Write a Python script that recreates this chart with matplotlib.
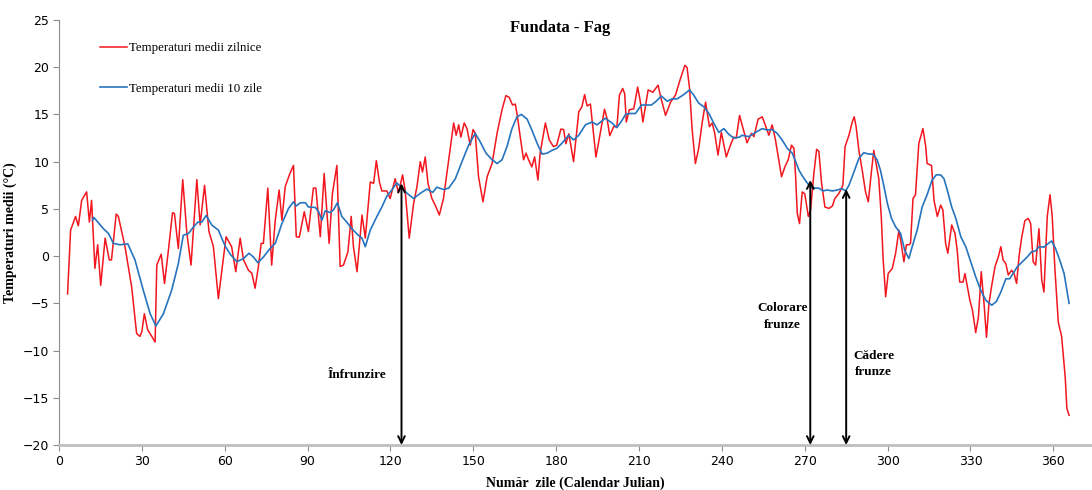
import matplotlib
matplotlib.use("Agg")
import matplotlib.pyplot as plt

# ---- data ----
red_days = [3.1, 4.2, 6.0, 7.0, 8.2, 10.0, 11.0, 11.8, 13.0, 14.0, 15.1, 16.7, 18.2, 19.0, 20.7, 21.5, 23.9, 26.3,
            28.1, 29.3, 30.0, 30.9, 32.1, 33.6, 34.8, 35.4, 37.0, 38.2, 39.6, 41.1, 41.8, 43.2, 44.8, 46.3, 47.8,
            49.9, 51.1, 52.7, 54.3, 55.9, 57.7, 58.9, 60.5, 62.5, 64.0, 65.6, 66.8, 68.6, 69.8, 71.0, 72.2, 73.2,
            74.0, 75.6, 77.0, 78.3, 79.7, 80.7, 81.9, 83.4, 84.9, 85.9, 87.0, 88.8, 90.3, 92.1, 93.0, 94.6, 96.0,
            97.8, 99.0, 100.6, 101.8, 103.0, 104.6, 105.8, 106.6, 107.9, 109.7, 110.9, 112.7, 113.9, 114.9, 116.0,
            116.9, 118.7, 119.9, 121.7, 122.9, 124.4, 125.3, 126.8, 128.4, 129.6, 130.8, 131.6, 132.6, 133.6, 135.0,
            136.2, 137.7, 139.2, 141.1, 142.9, 143.8, 144.7, 145.5, 146.7, 147.7, 148.9, 149.9, 150.7, 151.9, 153.5,
            155.0, 156.8, 158.6, 160.4, 161.8, 163.0, 164.2, 165.2, 166.0, 167.0, 168.2, 169.1, 170.0, 171.2, 172.2,
            173.4, 174.2, 176.1, 177.5, 179.0, 180.2, 181.7, 182.7, 183.5, 184.6, 186.3, 188.2, 189.3, 190.3, 191.2,
            192.4, 194.4, 195.4, 197.5, 198.4, 199.4, 200.8, 202.0, 202.9, 204.1, 204.8, 205.4, 206.5, 208.1, 209.5,
            210.5, 211.4, 213.3, 215.0, 216.0, 216.9, 217.8, 219.6, 221.4, 223.2, 225.0, 226.6, 227.4, 228.3, 229.2,
            230.4, 231.6, 232.9, 234.1, 235.5, 236.5, 237.4, 238.6, 239.8, 241.6, 243.1, 244.3, 245.2, 246.4, 247.3,
            249.1, 250.7, 251.6, 253.1, 254.6, 255.5, 257.0, 258.2, 259.4, 260.6, 261.6, 262.8, 264.0, 265.2, 266.1,
            266.7, 267.3, 268.1, 269.1, 270.0, 271.3, 272.1, 273.3, 274.3, 275.1, 276.1, 277.3, 278.8, 280.0, 280.9,
            282.4, 283.8, 284.6, 286.0, 287.2, 287.9, 288.6, 289.6, 290.8, 292.0, 293.0, 294.2, 295.0, 295.6, 296.8,
            297.7, 298.4, 299.3, 300.2, 301.7, 302.9, 304.1, 304.9, 305.9, 306.8, 307.7, 308.3, 309.2, 310.1, 311.3,
            312.8, 313.8, 314.3, 315.9, 316.8, 318.0, 319.2, 320.0, 321.0, 321.8, 323.2, 324.4, 325.2, 326.1, 327.3,
            328.0, 328.9, 329.8, 330.7, 331.9, 332.9, 333.9, 334.9, 335.8, 336.7, 337.7, 338.9, 340.1, 341.0, 341.8,
            342.8, 343.7, 344.9, 345.8, 346.7, 347.6, 348.5, 349.7, 350.9, 351.8, 352.7, 353.6, 354.8, 355.8, 356.6,
            357.8, 358.8, 359.6, 360.6, 361.8, 363.0, 364.3, 364.9, 365.7]
red_temps = [-4.0, 2.75, 4.2, 3.2, 5.9, 6.8, 3.6, 5.9, -1.3, 1.2, -3.1, 1.9, -0.4, -0.4, 4.45, 4.2, 1.0, -3.25,
             -8.2, -8.5, -8.0, -6.1, -7.8, -8.5, -9.1, -0.95, 0.2, -2.9, 0.6, 4.6, 4.5, 0.8, 8.1, 2.4, -0.95,
             8.1, 3.3, 7.5, 2.6, 1.0, -4.5, -1.65, 2.05, 1.0, -1.65, 1.9, -0.4, -1.5, -1.8, -3.4, -1.1, 1.35,
             1.35, 7.2, -0.95, 3.8, 7.0, 3.8, 7.35, 8.6, 9.6, 2.05, 2.0, 4.7, 2.6, 7.2, 7.2, 2.05, 8.75,
             1.35, 6.65, 9.6, -1.1, -0.95, 0.45, 4.2, 1.0, -1.65, 4.35, 1.9, 7.85, 7.7, 10.1, 7.85,
             6.9, 6.9, 6.1, 8.2, 6.7, 8.6, 7.0, 1.9, 5.6, 7.35, 10.0, 8.9, 10.5, 7.7, 6.1,
             5.4, 4.35, 6.1, 10.2, 14.1, 12.8, 13.9, 12.6, 14.1, 13.5, 11.75, 13.4, 13.0, 8.4, 5.75,
             8.4, 9.8, 13.0, 15.5, 17.0, 16.8, 16.0, 16.1, 14.75, 12.6, 10.2, 10.9, 10.2, 9.45, 10.5,
             8.05, 10.9, 14.1, 12.3, 11.6, 11.75, 13.45, 13.4, 11.9, 12.95, 10.0, 15.3, 15.8, 17.1, 15.9,
             16.1, 10.5, 12.1, 15.55, 14.6, 12.75, 13.7, 13.7, 17.05, 17.75, 17.2, 14.2, 15.5, 15.6, 17.9,
             16.3, 14.2, 17.6, 17.35, 17.75, 18.1, 16.9, 14.9, 16.3, 17.05, 18.8, 20.2, 19.95, 17.75, 13.5,
             9.8, 11.4, 14.2, 16.3, 13.7, 14.1, 13.0, 10.7, 13.1, 10.5, 11.75, 12.6, 12.5, 14.9, 13.9,
             12.0, 13.0, 12.65, 14.5, 14.75, 14.05, 12.8, 13.9, 12.3, 10.2, 8.4, 9.45, 10.2, 11.75, 11.4,
             8.4, 4.5, 3.45, 6.8, 6.6, 4.2, 4.9, 8.75, 11.3, 11.1, 7.7, 5.2, 5.05, 5.3, 6.1,
             6.65, 7.5, 11.6, 12.8, 14.2, 14.75, 13.7, 11.2, 9.1, 6.8, 5.75, 9.1, 11.2, 10.2, 8.2,
             4.2, -0.4, -4.3, -1.85, -1.3, 0.3, 2.75, 1.35, -0.6, 1.2, 1.2, 1.35, 6.1, 6.5, 11.95,
             13.5, 11.6, 9.8, 9.6, 5.9, 4.2, 5.4, 4.9, 1.35, 0.3, 3.3, 2.4, 0.6, -2.75, -2.75,
             -1.85, -3.25, -4.7, -5.7, -8.1, -6.4, -1.65, -5.0, -8.6, -5.0, -3.1, -1.1, -0.07, 1.0, -0.4,
             -0.8, -2.0, -1.5, -1.85, -2.9, 0.0, 1.9, 3.75, 4.0, 3.45, -0.6, -0.95, 2.9, -2.5, -3.8,
             4.2, 6.5, 4.2, -1.5, -7.0, -8.5, -12.8, -16.1, -16.85]

blue_days = [12.1, 12.6, 16.1, 17.9, 19.7, 22.1, 24.9, 27.5, 30.5, 33.0, 35.1, 37.8, 40.8, 43.2, 45.0, 46.9, 48.7,
             50.3, 51.7, 53.3, 55.3, 57.7, 60.1, 62.0, 64.4, 66.8, 68.8, 70.4, 72.0, 74.0, 76.4, 78.3, 80.7, 83.1,
             84.9, 85.8, 87.4, 89.2, 90.3, 92.8, 94.0, 95.2, 96.4, 98.2, 99.4, 100.8, 102.4, 104.2, 106.0, 108.4,
             109.7, 110.9, 112.7, 115.1, 116.9, 118.7, 120.5, 122.3, 123.5, 126.0, 128.4, 130.8, 133.2, 135.3,
             136.8, 139.2, 141.1, 143.5, 145.9, 148.3, 150.7, 152.5, 154.6, 156.8, 158.6, 160.4, 162.2, 164.0,
             165.8, 167.4, 169.5, 171.2, 173.1, 174.9, 176.7, 178.5, 180.2, 182.1, 184.5, 186.3, 188.2, 190.6,
             193.0, 194.8, 197.8, 200.2, 202.0, 203.9, 205.1, 206.9, 208.7, 210.9, 212.3, 214.5, 216.2, 218.1,
             220.2, 222.0, 223.8, 226.2, 228.3, 229.8, 231.6, 233.5, 235.3, 237.1, 238.9, 240.7, 242.5, 244.3,
             246.4, 247.3, 249.7, 252.2, 254.6, 256.4, 258.2, 260.0, 261.8, 263.7, 265.5, 266.7, 267.9, 269.1,
             270.5, 272.1, 273.9, 275.1, 276.6, 278.1, 280.0, 281.8, 283.4, 284.8, 286.0, 287.8, 289.6, 291.4,
             293.2, 294.7, 296.2, 297.4, 298.7, 299.9, 301.4, 302.9, 304.7, 306.2, 307.7, 308.9, 310.7, 312.5,
             314.3, 316.1, 317.6, 319.2, 320.4, 321.6, 323.2, 324.7, 326.5, 328.3, 330.1, 331.9, 333.7, 335.5,
             337.7, 339.4, 341.0, 342.8, 344.2, 345.4, 347.0, 348.8, 350.6, 352.1, 353.6, 354.8, 356.6, 358.2,
             359.4, 360.8, 362.3, 363.9, 365.7]
blue_temps = [3.8, 4.1, 2.9, 2.4, 1.35, 1.2, 1.3, -0.4, -3.6, -6.1, -7.4, -6.1, -3.6, -0.8, 2.2, 2.4, 3.1,
              3.6, 3.6, 4.3, 3.3, 2.75, 1.1, 0.2, -0.6, -0.25, 0.3, -0.1, -0.7, -0.1, 0.8, 1.35, 3.45, 5.05,
              5.75, 5.3, 5.65, 5.65, 5.2, 5.15, 4.7, 3.8, 4.8, 4.6, 4.9, 5.65, 4.2, 3.6, 2.9, 2.2,
              1.9, 1.0, 2.75, 4.2, 5.2, 6.35, 7.0, 7.75, 7.4, 6.65, 6.1, 6.65, 7.1, 6.75,
              7.3, 7.05, 7.2, 8.2, 10.0, 11.75, 13.0, 12.1, 10.9, 10.2, 9.8, 10.2, 11.6, 13.5,
              14.75, 15.0, 14.5, 13.35, 11.95, 10.8, 10.9, 11.2, 11.4, 11.95, 12.8, 12.3, 12.8, 13.9,
              14.2, 13.9, 14.6, 14.1, 13.6, 14.4, 15.0, 15.1, 15.1, 16.0, 16.0, 16.0, 16.4, 16.95,
              16.4, 16.65, 16.65, 17.1, 17.6, 17.05, 16.2, 15.8, 15.1, 14.05, 13.1, 13.5, 12.9, 12.5,
              12.6, 12.8, 12.65, 13.1, 13.5, 13.35, 13.4, 13.0, 12.3, 11.4, 10.9, 10.0, 9.1, 8.5,
              7.9, 7.3, 7.2, 7.2, 6.9, 7.0, 6.9, 7.0, 7.15, 6.9, 7.5, 8.9, 10.35, 10.95,
              10.8, 10.8, 10.2, 9.1, 7.35, 5.6, 4.0, 3.1, 2.4, 0.6, -0.25, 1.0, 2.75, 5.2,
              6.5, 8.05, 8.6, 8.6, 8.2, 7.0, 5.2, 4.0, 2.05, 1.0, -0.6, -2.2, -3.6, -4.65,
              -5.2, -4.8, -3.8, -2.4, -2.4, -1.85, -1.1, -0.6, -0.07, 0.45, 0.55, 1.0, 0.95, 1.35,
              1.6, 0.8, -0.4, -1.85, -5.0]

x_ticks = [0, 30, 60, 90, 120, 150, 180, 210, 240, 270, 300, 330, 360]
y_ticks = [-20, -15, -10, -5, 0, 5, 10, 15, 20, 25]

event_days = [124, 272, 285]
event_tops = [7.7, 8.05, 7.1]
event_labels = ["Înfrunzire", "Colorare\nfrunze", "Cădere\nfrunze"]
event_label_pos = [(108, -12.6), (262, -6.4), (295, -11.4)]

series_labels = ["Temperaturi medii zilnice", "Temperaturi medii 10 zile"]

# ---- figure ----
serif = ["Liberation Serif", "DejaVu Serif"]
narrow = ["Liberation Sans Narrow", "DejaVu Sans"]

fig = plt.figure(figsize=(10.92, 4.90), dpi=100)
ax = fig.add_axes([59 / 1092, 1 - 445 / 490, 1 - 59 / 1092, (445 - 20) / 490])

ax.plot(red_days, red_temps, color="#F2161E", lw=1.1, label=series_labels[0], zorder=3)
ax.plot(blue_days, blue_temps, color="#2674BE", lw=1.2, label=series_labels[1], zorder=4)

ax.set_xlim(0, 374)
ax.set_ylim(-20, 25)
ax.set_xticks(x_ticks)
ax.set_yticks(y_ticks)
for lab in ax.get_xticklabels() + ax.get_yticklabels():
    lab.set_family(narrow)
    lab.set_fontsize(9)

for s in ["top", "right"]:
    ax.spines[s].set_visible(False)
ax.spines["left"].set_color("#8c8c8c")
ax.spines["bottom"].set_color("#bfbfbf")
ax.spines["bottom"].set_linewidth(2.0)
ax.tick_params(axis="both", direction="out", length=4, width=0.8, color="#8c8c8c", pad=3)

ax.set_xlabel("Număr  zile (Calendar Julian)", fontsize=10, fontweight="bold", family=serif, labelpad=6)
ax.set_ylabel("Temperaturi medii (°C)", fontsize=10, fontweight="bold", family=serif, labelpad=4)

ax.text(181.5, 24.2, "Fundata - Fag", ha="center", va="center", fontsize=12, fontweight="bold", family=serif)

for d, top, lab, (lx, ly) in zip(event_days, event_tops, event_labels, event_label_pos):
    ax.annotate("", xy=(d, -20), xytext=(d, top),
                arrowprops=dict(arrowstyle="<->", color="black", lw=1.4, mutation_scale=12,
                                shrinkA=0, shrinkB=0), zorder=5)
    ax.text(lx, ly, lab, ha="center", va="center", fontsize=9.5, fontweight="bold",
            family=serif, linespacing=1.5)

leg = ax.legend(loc="upper left", bbox_to_anchor=(0.028, 0.975), frameon=False, handlelength=2.1,
                handletextpad=0.15, labelspacing=2.2, prop={"family": serif, "size": 9.3})

fig.savefig("out.png", dpi=100)
